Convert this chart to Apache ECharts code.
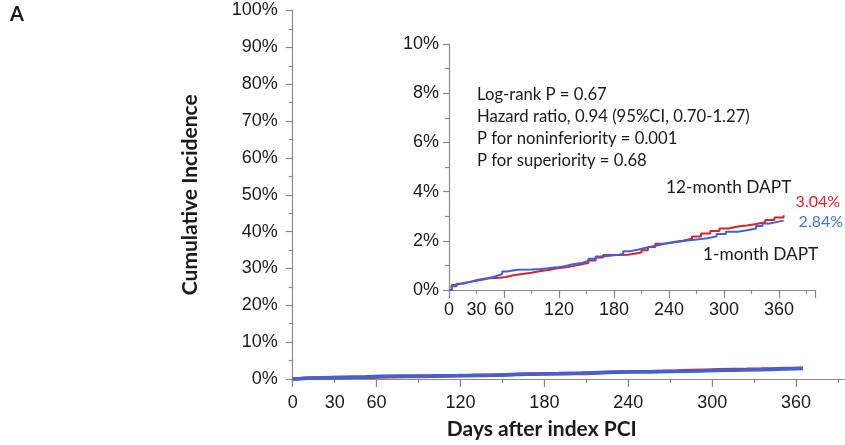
<!DOCTYPE html>
<html>
<head>
<meta charset="utf-8">
<script src="https://cdn.jsdelivr.net/npm/echarts@6/dist/echarts.min.js"></script>
<style>html,body{margin:0;padding:0;background:#fff}#c{width:845px;height:445px}</style>
</head>
<body>
<div id="c"></div>
<script>
// ---- data ----
const oneMonthDays = [0,3,8,15,22,30,38,45,52,58,63,75,90,100,108,118,126,135,145,152,160,168,185,190,198,207,215,225,235,248,258,270,282,292,302,315,325,335,342,350,358,365];
const oneMonthPct  = [0,0.15,0.25,0.32,0.38,0.43,0.5,0.57,0.65,0.75,0.82,0.83,0.85,0.88,0.92,0.97,1.05,1.1,1.18,1.27,1.36,1.43,1.46,1.58,1.65,1.72,1.8,1.88,1.95,2.0,2.05,2.1,2.18,2.28,2.37,2.43,2.5,2.6,2.7,2.77,2.82,2.84];
const twelveMonthDays = [0,3,8,15,25,32,40,55,62,70,80,90,100,110,118,128,135,145,152,160,168,185,195,202,210,217,225,235,245,255,265,275,285,295,305,315,325,335,345,355,365];
const twelveMonthPct  = [0,0.2,0.28,0.35,0.42,0.47,0.5,0.53,0.6,0.65,0.7,0.77,0.82,0.88,0.92,0.97,1.05,1.1,1.2,1.32,1.42,1.43,1.47,1.52,1.62,1.75,1.88,1.95,2.0,2.08,2.17,2.3,2.4,2.5,2.58,2.62,2.68,2.75,2.85,2.95,3.04];
const xTickLabels = [0,30,60,120,180,240,300,360];
const statsText = [
  'Log-rank P = 0.67',
  'Hazard ratio, 0.94 (95%CI, 0.70-1.27)',
  'P for noninferiority = 0.001',
  'P for superiority = 0.68'
];
const groupNames = ['1-month DAPT','12-month DAPT'];

const RED = '#d8242e', BLUE = '#3d63d6';
const AXIS = '#8a8a8a', TXT = '#1a1a1a';
const TICKFONT = 'Liberation Sans';
const TEXTFONT = 'Lato';

const pairs = (d, v) => d.map((x, i) => [x, v[i]]);
const xFmt = v => xTickLabels.indexOf(v) >= 0 ? String(v) : '';

function xAxisDef(gridIndex, max, fs, labelMargin, withName) {
  return {
    type: 'value', gridIndex, min: 0, max, interval: 30, position: 'bottom',
    axisLine: {onZero: false, lineStyle: {color: AXIS, width: 1.2}},
    axisTick: {show: true, length: 4, lineStyle: {color: AXIS, width: 1.2}},
    axisLabel: {formatter: xFmt, color: TXT, fontFamily: TICKFONT, fontSize: fs, margin: labelMargin, showMaxLabel: false},
    splitLine: {show: false},
    name: withName ? 'Days after index PCI' : '',
    nameLocation: 'middle', nameGap: 40,
    nameTextStyle: {fontFamily: TEXTFONT, fontWeight: 'bold', fontSize: 21, color: TXT, padding: [0, 54, 0, 0]}
  };
}
function xMajorTicks(gridIndex, max) {
  return {
    type: 'value', gridIndex, min: 0, max, interval: 60, position: 'bottom',
    axisLine: {show: false, onZero: false},
    axisTick: {show: true, length: 8, lineStyle: {color: AXIS, width: 1.2}},
    axisLabel: {show: false}, splitLine: {show: false}
  };
}

const option = {
  animation: false,
  backgroundColor: '#fff',
  grid: [
    {left: 292.7, top: 10.5, right: 0, bottom: 60.7, containLabel: false},
    {left: 449, top: 44, width: 366.7, height: 246, containLabel: false}
  ],
  xAxis: [
    xAxisDef(0, 395, 18, 15, true),
    xMajorTicks(0, 395),
    xAxisDef(1, 400, 18, 11, false),
    xMajorTicks(1, 400)
  ],
  yAxis: [
    {
      type: 'value', gridIndex: 0, min: 0, max: 100, interval: 10,
      axisLine: {show: true, lineStyle: {color: AXIS, width: 1.2}},
      axisTick: {show: true, length: 7, lineStyle: {color: AXIS, width: 1.2}},
      minorTick: {show: true, splitNumber: 2, length: 4, lineStyle: {color: AXIS, width: 1.2}},
      axisLabel: {formatter: '{value}%', color: TXT, fontFamily: TICKFONT, fontSize: 18, margin: 15},
      splitLine: {show: false},
      name: 'Cumulative Incidence', nameLocation: 'middle', nameGap: 92,
      nameTextStyle: {fontFamily: TEXTFONT, fontWeight: 'bold', fontSize: 21, color: TXT}
    },
    {
      type: 'value', gridIndex: 1, min: 0, max: 10, interval: 2,
      axisLine: {show: true, lineStyle: {color: AXIS, width: 1.2}},
      axisTick: {show: true, length: 6, lineStyle: {color: AXIS, width: 1.2}},
      minorTick: {show: true, splitNumber: 2, length: 4, lineStyle: {color: AXIS, width: 1.2}},
      axisLabel: {formatter: '{value}%', color: TXT, fontFamily: TICKFONT, fontSize: 18, margin: 10},
      splitLine: {show: false}
    }
  ],
  series: [
    {type: 'line', name: groupNames[1], xAxisIndex: 0, yAxisIndex: 0, step: 'end', showSymbol: false,
     data: pairs(twelveMonthDays, twelveMonthPct), lineStyle: {color: RED, width: 3.5}},
    {type: 'line', name: groupNames[0], xAxisIndex: 0, yAxisIndex: 0, step: 'end', showSymbol: false,
     data: pairs(oneMonthDays, oneMonthPct), lineStyle: {color: BLUE, width: 3.5}},
    {type: 'line', name: groupNames[1], xAxisIndex: 2, yAxisIndex: 1, step: 'end', showSymbol: false,
     data: pairs(twelveMonthDays, twelveMonthPct), lineStyle: {color: RED, width: 2},
     endLabel: {show: true, formatter: p => p.value[1].toFixed(2) + '%', color: RED,
                fontFamily: TEXTFONT, fontSize: 16, offset: [4, -13]}},
    {type: 'line', name: groupNames[0], xAxisIndex: 2, yAxisIndex: 1, step: 'end', showSymbol: false,
     data: pairs(oneMonthDays, oneMonthPct), lineStyle: {color: BLUE, width: 2},
     endLabel: {show: true, formatter: p => p.value[1].toFixed(2) + '%', color: '#4a74cc',
                fontFamily: TEXTFONT, fontSize: 16, offset: [7, 2]}}
  ],
  graphic: [
    {type: 'text', left: 10, top: 5, style: {text: 'A', font: 'bold 20px Lato', fill: TXT}},
    {type: 'text', left: 477, top: 84, style: {text: statsText.join('\n'), font: '16.7px Lato', fill: TXT, lineHeight: 22}},
    {type: 'text', left: 666, top: 179, style: {text: groupNames[1], font: '17.3px Lato', fill: TXT}},
    {type: 'text', left: 703, top: 246, style: {text: groupNames[0], font: '17.3px Lato', fill: TXT}}
  ]
};
echarts.init(document.getElementById('c'), null, {renderer: 'canvas'}).setOption(option);
</script>
</body>
</html>
